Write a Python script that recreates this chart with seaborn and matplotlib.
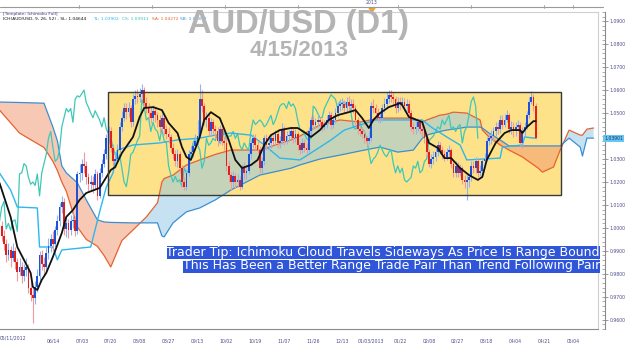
import numpy as np
import pandas as pd
import matplotlib
matplotlib.use("Agg")
import matplotlib.pyplot as plt
import seaborn as sns
from matplotlib.patches import Rectangle, Polygon
from matplotlib.lines import Line2D
from matplotlib.transforms import blended_transform_factory

sns.set_style("white")
plt.rcParams["font.family"] = ["DejaVu Sans"]

# ---------------- data (prices in pips: 1.0000 = 10000) ----------------
first_open = 10040
close_pips = [
    10010, 9965, 9930, 9880, 9905, 9870, 9900, 9850, 9810, 9830,
    9790, 9815, 9830, 9740, 9710, 9695, 9745, 9790, 9880, 9845,
    9830, 9890, 9920, 9950, 9930, 9990, 10030, 10090, 10115, 9995,
    10020, 9990, 10030, 10035, 9985, 10235, 10240, 10280, 10270, 10220,
    10190, 10200, 10185, 10235, 10140, 10240, 10280, 10320, 10390, 10420,
    10350, 10290, 10300, 10340, 10440, 10480, 10520, 10505, 10520, 10460,
    10560, 10575, 10570, 10585, 10600, 10545, 10525, 10500, 10480, 10510,
    10490, 10470, 10440, 10480, 10430, 10410, 10395, 10350, 10320, 10290,
    10320, 10260, 10200, 10180, 10240, 10320, 10330, 10355, 10380, 10400,
    10560, 10530, 10470, 10480, 10420, 10460, 10430, 10420, 10380, 10430,
    10380, 10370, 10270, 10230, 10200, 10225, 10200, 10210, 10180, 10260,
    10240, 10250, 10320, 10370, 10390, 10360, 10340, 10260, 10290, 10390,
    10360, 10370, 10390, 10380, 10410, 10370, 10380, 10430, 10380, 10400,
    10400, 10420, 10390, 10410, 10360, 10340, 10370, 10350, 10340, 10420,
    10470, 10450, 10460, 10470, 10460, 10440, 10450, 10470, 10490, 10450,
    10470, 10500, 10530, 10540, 10540, 10520, 10550, 10530, 10540, 10520,
    10470, 10430, 10420, 10410, 10390, 10380, 10390, 10530, 10520, 10500,
    10480, 10480, 10520, 10540, 10560, 10580, 10570, 10560, 10520, 10550,
    10540, 10550, 10530, 10540, 10500, 10440, 10430, 10440, 10460, 10430,
    10420, 10390, 10330, 10280, 10300, 10310, 10330, 10360, 10340, 10320,
    10310, 10330, 10340, 10280, 10240, 10270, 10240, 10260, 10210, 10200,
    10210, 10220, 10270, 10260, 10290, 10240, 10250, 10290, 10300, 10380,
    10390, 10400, 10420, 10440, 10430, 10470, 10450, 10470, 10490, 10430,
    10440, 10420, 10440, 10450, 10370, 10420, 10440, 10490, 10550, 10570,
    10530, 10390]
high_pips = [
    10075, 10030, 9990, 9950, 9935, 9920, 9935, 9915, 9870, 9870,
    9850, 9845, 9870, 9845, 9770, 9740, 9770, 9820, 9900, 9905,
    9875, 9915, 9955, 9975, 9985, 10010, 10055, 10110, 10140, 10130,
    10050, 10040, 10055, 10065, 10050, 10250, 10280, 10300, 10330, 10290,
    10240, 10230, 10225, 10255, 10250, 10260, 10300, 10345, 10410, 10445,
    10440, 10365, 10330, 10365, 10460, 10510, 10545, 10545, 10550, 10535,
    10585, 10600, 10605, 10610, 10625, 10615, 10570, 10545, 10525, 10535,
    10530, 10505, 10490, 10500, 10495, 10450, 10440, 10410, 10370, 10340,
    10345, 10335, 10275, 10220, 10255, 10340, 10355, 10380, 10410, 10470,
    10625, 10600, 10545, 10505, 10495, 10480, 10475, 10450, 10440, 10450,
    10445, 10400, 10390, 10290, 10245, 10250, 10240, 10235, 10225, 10280,
    10285, 10275, 10340, 10385, 10410, 10410, 10380, 10355, 10310, 10405,
    10410, 10390, 10410, 10405, 10425, 10430, 10400, 10455, 10445, 10420,
    10425, 10440, 10435, 10430, 10420, 10375, 10390, 10385, 10370, 10440,
    10485, 10490, 10480, 10495, 10485, 10475, 10470, 10490, 10510, 10505,
    10490, 10520, 10550, 10560, 10565, 10555, 10570, 10575, 10560, 10560,
    10535, 10485, 10445, 10440, 10425, 10400, 10420, 10550, 10560, 10540,
    10520, 10505, 10540, 10565, 10590, 10600, 10600, 10590, 10575, 10570,
    10570, 10570, 10565, 10560, 10555, 10515, 10460, 10465, 10480, 10475,
    10450, 10440, 10400, 10345, 10320, 10335, 10350, 10380, 10375, 10355,
    10340, 10350, 10360, 10350, 10295, 10290, 10285, 10280, 10270, 10230,
    10230, 10240, 10290, 10290, 10310, 10300, 10275, 10305, 10325, 10395,
    10410, 10425, 10440, 10460, 10460, 10490, 10490, 10495, 10515, 10500,
    10465, 10460, 10460, 10470, 10460, 10440, 10460, 10510, 10570, 10597,
    10585, 10545]
low_pips = [
    9985, 9945, 9905, 9850, 9860, 9830, 9855, 9820, 9770, 9795,
    9760, 9770, 9790, 9715, 9680, 9585, 9670, 9720, 9770, 9815,
    9790, 9810, 9865, 9895, 9900, 9915, 9970, 10010, 10065, 9970,
    9960, 9955, 9970, 10000, 9965, 9975, 10200, 10210, 10240, 10190,
    10160, 10165, 10150, 10170, 10120, 10130, 10220, 10265, 10300, 10370,
    10330, 10265, 10260, 10285, 10325, 10420, 10465, 10475, 10485, 10440,
    10445, 10540, 10545, 10550, 10565, 10520, 10500, 10475, 10455, 10465,
    10460, 10440, 10415, 10420, 10405, 10385, 10370, 10330, 10300, 10270,
    10265, 10240, 10180, 10163, 10165, 10225, 10300, 10310, 10340, 10360,
    10390, 10505, 10450, 10440, 10400, 10400, 10410, 10390, 10355, 10365,
    10360, 10340, 10250, 10200, 10163, 10180, 10175, 10180, 10165, 10170,
    10215, 10215, 10235, 10300, 10350, 10340, 10320, 10240, 10240, 10275,
    10340, 10340, 10350, 10360, 10360, 10350, 10350, 10365, 10360, 10365,
    10380, 10385, 10370, 10375, 10340, 10320, 10325, 10330, 10320, 10330,
    10405, 10430, 10435, 10440, 10440, 10420, 10425, 10435, 10455, 10430,
    10435, 10455, 10485, 10510, 10515, 10500, 10505, 10510, 10510, 10500,
    10450, 10410, 10400, 10390, 10370, 10360, 10365, 10380, 10500, 10480,
    10460, 10455, 10465, 10505, 10525, 10545, 10550, 10535, 10500, 10505,
    10515, 10520, 10510, 10510, 10480, 10420, 10410, 10410, 10420, 10410,
    10395, 10370, 10310, 10265, 10260, 10280, 10290, 10315, 10320, 10300,
    10290, 10295, 10310, 10260, 10220, 10220, 10220, 10225, 10190, 10175,
    10120, 10180, 10205, 10240, 10240, 10220, 10225, 10230, 10270, 10290,
    10360, 10365, 10380, 10400, 10410, 10415, 10430, 10440, 10460, 10415,
    10410, 10395, 10400, 10420, 10355, 10350, 10400, 10430, 10480, 10540,
    10510, 10385]

# Ichimoku lines: (bar index, price)
sl_idx = [0, 5, 8, 11, 14, 15, 17, 19, 21, 24, 28, 30, 33, 36, 39, 45, 50, 52, 55, 60,
          63, 65, 69, 73, 76, 80, 82, 84, 86, 89, 90, 92, 95, 99, 103, 106, 109, 113, 116, 119,
          122, 126, 131, 134, 137, 140, 144, 148, 152, 157, 160, 163, 166, 168, 171, 175, 180, 181, 184, 190,
          193, 197, 200, 203, 207, 211, 215, 217, 219, 223, 227, 230, 234, 235, 237, 240, 241]
sl_val = [1.0196, 1.0048, 0.9917, 0.9861, 0.9804, 0.9743, 0.9730, 0.9774, 0.9804, 0.9874,
          0.9978, 1.0048, 1.0078, 1.0122, 1.0152, 1.0174, 1.0252, 1.0265, 1.0326, 1.0396,
          1.0483, 1.0522, 1.0526, 1.0513, 1.0457, 1.0413, 1.0352, 1.0309, 1.0296, 1.0370,
          1.0396, 1.0470, 1.0504, 1.0478, 1.0383, 1.0296, 1.0261, 1.0274, 1.0296, 1.0361,
          1.0404, 1.0426, 1.0435, 1.0435, 1.0417, 1.0396, 1.0426, 1.0470, 1.0491, 1.0504,
          1.0513, 1.0478, 1.0435, 1.0470, 1.0500, 1.0526, 1.0543, 1.0535, 1.0483, 1.0461,
          1.0370, 1.0348, 1.0304, 1.0304, 1.0261, 1.0230, 1.0209, 1.0222, 1.0296, 1.0370,
          1.0413, 1.0426, 1.0426, 1.0413, 1.0439, 1.0465, 1.04644]
tl_idx = [0, 5, 8, 17, 18, 24, 26, 28, 41, 45, 48, 51, 53, 60, 72, 80, 90, 97, 104, 113,
          119, 126, 135, 142, 149, 155, 162, 169, 190, 194, 201, 207, 210, 225, 226, 235, 236, 241]
tl_val = [1.0239, 1.0165, 1.0091, 1.0087, 0.9917, 0.9917, 0.9861, 0.9904, 0.9917, 1.0070,
          1.0178, 1.0239, 1.0339, 1.0361, 1.0370, 1.0383, 1.0391, 1.0404, 1.0413, 1.0404,
          1.0361, 1.0304, 1.0296, 1.0339, 1.0383, 1.0426, 1.0448, 1.0470, 1.0470, 1.0439,
          1.0396, 1.0361, 1.0296, 1.0304, 1.0352, 1.0361, 1.0396, 1.03902]
span_idx = [0, 9, 20, 24, 26, 28, 30, 35, 39, 44, 47, 50, 55, 60, 66, 71, 73, 74, 78, 84,
            90, 97, 104, 117, 131, 135, 144, 153, 162, 171, 179, 186, 190, 192, 198, 201, 204, 210, 216, 217,
            220, 225, 229, 235, 242, 244, 249, 252, 256, 261, 262, 264, 267]
span_a = [1.0513, 1.0413, 1.0350, 1.0290, 1.0250, 1.0200, 1.0160, 1.0004, 0.9950, 0.9920,
          0.9880, 0.9830, 0.9945, 0.9991, 1.0048, 1.0109, 1.0200, 1.0215, 1.0230, 1.0274,
          1.0296, 1.0320, 1.0339, 1.0339, 1.0383, 1.0400, 1.0448, 1.0470, 1.0461, 1.0478,
          1.0478, 1.0478, 1.0461, 1.0470, 1.0491, 1.0495, 1.0504, 1.0500, 1.0470, 1.0426,
          1.0396, 1.0361, 1.0339, 1.0309, 1.0261, 1.0243, 1.0265, 1.0339, 1.0426, 1.0404,
          1.0404, 1.0430, 1.0435]
span_b = [1.0548, 1.0546, 1.0543, 1.0439, 1.0380, 1.0270, 1.0240, 1.0196, 1.0122, 1.0035,
          1.0026, 1.0024, 1.0023, 1.0022, 1.0022, 1.0022, 0.9965, 0.9961, 1.0022, 1.0070,
          1.0087, 1.0122, 1.0165, 1.0230, 1.0260, 1.0274, 1.0300, 1.0317, 1.0335, 1.0352,
          1.0330, 1.0339, 1.0390, 1.0404, 1.0420, 1.0426, 1.0430, 1.0439, 1.0439, 1.0435,
          1.0413, 1.0383, 1.0357, 1.0357, 1.0357, 1.0357, 1.0357, 1.0357, 1.0391, 1.0352,
          1.0313, 1.0391, 1.0391]
chikou_shift = 26
last_price = 1.03901

range_box_idx = (48.8, 252.4)
range_box_px = (1.0143, 1.0591)

xtick_idx = [24, 37, 50, 63, 76, 89, 102, 115, 128, 141, 154, 167, 180, 193, 206, 219, 232, 245, 258]
xtick_lab = ["06/14", "07/03", "07/20", "08/08", "08/27", "09/13", "10/02", "10/19", "11/07",
             "11/26", "12/13", "01/03/2013", "01/22", "02/08", "02/27", "03/18", "04/04", "04/21", "05/04"]
first_date_label = "05/11/2012"
ytick_vals = [0.96, 0.97, 0.98, 0.99, 1.00, 1.01, 1.02, 1.03, 1.04, 1.05, 1.06, 1.07, 1.08, 1.09]

# ---------------- figure ----------------
W, H = 625, 343
fig = plt.figure(figsize=(W / 100, H / 100), dpi=100)
fig.patch.set_facecolor("white")
ax = fig.add_axes([0, 14 / H, 598 / W, 317 / H])
ax.set_facecolor("white")

n = len(close_pips)
idx = np.arange(n)
c = np.array(close_pips) / 1e4
o = np.r_[first_open, close_pips[:-1]] / 1e4
hi = np.array(high_pips) / 1e4
lo = np.array(low_pips) / 1e4

# range box
ax.add_patch(Rectangle((range_box_idx[0], range_box_px[0]),
                       range_box_idx[1] - range_box_idx[0], range_box_px[1] - range_box_px[0],
                       facecolor="#fde28a", edgecolor="none", zorder=1))

# cloud
sx = np.array(span_idx, float)
sa = np.array(span_a)
sb = np.array(span_b)
ax.fill_between(sx, sa, sb, where=sa >= sb, interpolate=True, color="#8ec6e6", alpha=0.5, lw=0, zorder=2)
ax.fill_between(sx, sa, sb, where=sa < sb, interpolate=True, color="#f0946c", alpha=0.5, lw=0, zorder=2)
ax.add_patch(Rectangle((range_box_idx[0], range_box_px[0]),
                       range_box_idx[1] - range_box_idx[0], range_box_px[1] - range_box_px[0],
                       facecolor="none", edgecolor="#3a3a3a", lw=1.0, zorder=6))

lines = pd.DataFrame({"i": sx, "a": sa, "b": sb})
sns.lineplot(data=lines, x="i", y="a", ax=ax, color="#e8622e", lw=0.9, estimator=None, sort=False, zorder=3)
sns.lineplot(data=lines, x="i", y="b", ax=ax, color="#3b8fd0", lw=0.9, estimator=None, sort=False, zorder=3)

# chikou span (close shifted back)
sns.lineplot(x=idx - chikou_shift, y=c, ax=ax, color="#3ec8b8", lw=0.9, estimator=None, sort=False, zorder=3)
# TL line
sns.lineplot(x=tl_idx, y=tl_val, ax=ax, color="#2db7ee", lw=1.0, estimator=None, sort=False, zorder=3)

# candles
up = c >= o
wick_col = np.where(up, "#8fb6ee", "#f29a9a")
body_col = np.where(up, "#1f50d8", "#e01f1f")
ax.vlines(idx, lo, hi, colors=wick_col, lw=0.8, zorder=4)
bot = np.minimum(o, c)
ht = np.maximum(np.abs(c - o), 0.00025)
ax.bar(idx, ht, bottom=bot, width=0.8, color=body_col, lw=0, zorder=4.5)

# SL line (black)
sns.lineplot(x=sl_idx, y=sl_val, ax=ax, color="#111111", lw=1.3, estimator=None, sort=False, zorder=5)

ax.set_xlim(0.225, 268.99)
ax.set_ylim(0.95609, 1.09391)

# axes styling
ax.spines["left"].set_visible(False)
ax.spines["top"].set_color("#cfcfcf")
ax.spines["top"].set_linewidth(0.8)
ax.spines["bottom"].set_color("#8a8a8a")
ax.spines["bottom"].set_linewidth(0.8)
ax.spines["right"].set_color("#8a8a8a")
ax.spines["right"].set_linewidth(0.8)
ax.spines["right"].set_position(("outward", 5))
ax.add_line(Line2D([1, 1], [0, 1], transform=ax.transAxes, color="#cfcfcf", lw=0.8, clip_on=False))

ax.set_xticks(xtick_idx)
ax.set_xticklabels(xtick_lab)
ax.set_xticks(np.arange(2, 269, 13 / 6), minor=True)
ax.tick_params(axis="x", which="major", direction="out", length=4, width=0.6, color="#8a8a8a",
               labelsize=3.3, labelcolor="#4b4b8c", pad=2.8)
ax.tick_params(axis="x", which="minor", direction="out", length=2, width=0.5, color="#8a8a8a")
ax.yaxis.tick_right()
ax.set_yticks(ytick_vals)
# the 1.0400 label sits under the current-price tag in the reference
ax.set_yticklabels(["" if abs(v - 1.04) < 1e-9 else f"{v:.4f}" for v in ytick_vals])
ax.set_yticks(np.arange(0.956, 1.094, 0.002), minor=True)
ax.tick_params(axis="y", which="major", direction="inout", length=5, width=0.6, color="#8a8a8a",
               labelsize=3.3, labelcolor="#4b4b8c", pad=0.8)
ax.tick_params(axis="y", which="minor", direction="in", length=2, width=0.5, color="#8a8a8a")
ax.set_xlabel("")
ax.set_ylabel("")

fig.text(0 / W, 1 - 338 / H, first_date_label, fontsize=3.3, color="#4b4b8c", ha="left", va="center")

# current price tag
tr = blended_transform_factory(ax.transAxes, ax.transData)
ax.text(1 + 6 / 598, last_price, f"{last_price:.5f}", transform=tr, fontsize=3.3, color="#2c2c6c",
        ha="left", va="center", bbox=dict(boxstyle="square,pad=0.2", fc="#62c9f2", ec="none"),
        clip_on=False, zorder=10)

# top date strip
fig.add_artist(Line2D([0, 603 / W], [1 - 7 / H, 1 - 7 / H], color="#9a9a9a", lw=0.8))
for xp in [79, 152, 225, 298, 398, 471, 544, 573]:
    fig.add_artist(Line2D([xp / W, xp / W], [1 - 5 / H, 1 - 8 / H], color="#9a9a9a", lw=0.6))
fig.text(372 / W, 1 - 3 / H, "2013", fontsize=3.3, color="#4b4b8c", ha="center", va="center")
fig.add_artist(Polygon([[369 / W, 1 - 8 / H], [375 / W, 1 - 8 / H], [372 / W, 1 - 12 / H]],
                       closed=True, color="#f0a030", transform=fig.transFigure))

# legend text
fig.text(3 / W, 1 - 14.5 / H, "[Template: Ichimoku Full]", fontsize=3.2, color="#3c3c8c", va="center")
parts = [(3, "ICH(AUD/USD, 9, 26, 52) - SL: 1.04644", "#111111"),
         (93, "TL: 1.03902", "#2db7ee"),
         (122, "CS: 1.03911", "#2fbfae"),
         (152, "SA: 1.04272", "#e8622e"),
         (180, "SB: 1.03877", "#3b8fd0")]
for xp, t, col in parts:
    fig.text(xp / W, 1 - 19.5 / H, t, fontsize=3.2, color=col, va="center")

# title
fig.text(298 / W, 1 - 24 / H, "AUD/USD (D1)", fontsize=23.5, fontweight="bold", color="#b4b4b4",
         ha="center", va="center", family=["Liberation Sans", "DejaVu Sans"])
fig.text(299 / W, 1 - 50 / H, "4/15/2013", fontsize=16, fontweight="bold", color="#b4b4b4",
         ha="center", va="center", family=["Liberation Sans", "DejaVu Sans"])

# trader tip
tip1 = "Trader Tip: Ichimoku Cloud Travels Sideways As Price Is Range Bound"
tip2 = "This Has Been a Better Range Trade Pair Than Trend Following Pair"
for yp, t in [(252.5, tip1), (266, tip2)]:
    fig.text(600 / W, 1 - yp / H, t, fontsize=9, color="white", ha="right", va="center",
             bbox=dict(boxstyle="square,pad=0.0", fc="#2f55d8", ec="none"), zorder=10)

fig.savefig("out.png", dpi=100)
